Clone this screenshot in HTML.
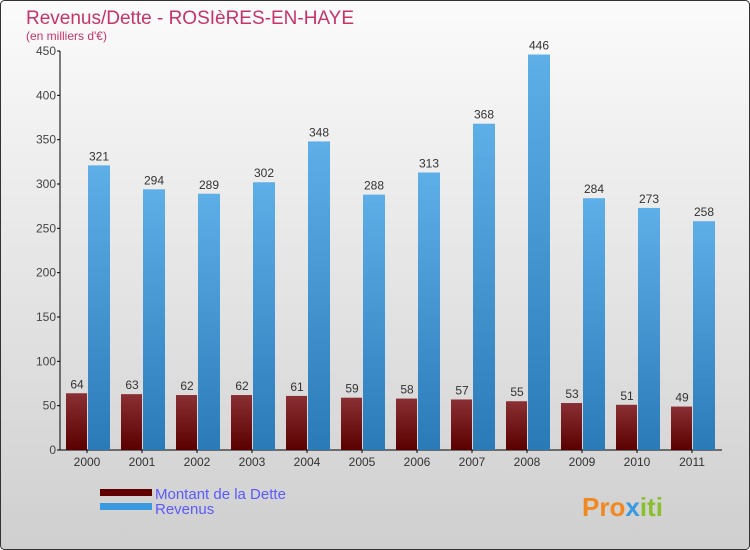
<!DOCTYPE html>
<html><head><meta charset="utf-8"><style>
body{margin:0}
svg{display:block;font-family:"Liberation Sans",sans-serif}
</style></head><body>
<svg id="c" width="750" height="550">
<defs>
<linearGradient id="bg" x1="0" y1="0" x2="0" y2="1"><stop offset="0" stop-color="#fbfbfb"/><stop offset="1" stop-color="#cfcfcf"/></linearGradient>
<linearGradient id="gd" x1="0" y1="0" x2="0" y2="1"><stop offset="0" stop-color="#8a3034"/><stop offset="1" stop-color="#5a0000"/></linearGradient>
<linearGradient id="gr" x1="0" y1="0" x2="0" y2="1"><stop offset="0" stop-color="#5eafe8"/><stop offset="1" stop-color="#2a7ab8"/></linearGradient>
</defs>
<rect x="0.5" y="0.5" width="749" height="549" rx="4" fill="url(#bg)" stroke="#333"/>
<text x="26" y="24" font-size="19" fill="#c8336a">Revenus/Dette - ROSIèRES-EN-HAYE</text>
<text x="26" y="40" font-size="12" fill="#c8336a">(en milliers d'€)</text>
<g id="plot"></g>
<rect x="100" y="489" width="52" height="7" fill="#600000"/>
<text x="155" y="499" font-size="15" fill="#5a5aff">Montant de la Dette</text>
<rect x="100" y="503" width="52" height="7" fill="#3a9ae0"/>
<text x="155" y="514" font-size="15" fill="#5a5aff">Revenus</text>
<text x="582" y="516" font-size="26" font-weight="bold" fill="#f08a20">Pro<tspan fill="#3a9ae0">x</tspan><tspan fill="#8ac030">iti</tspan></text>
</svg>
<script>
const years=["2000","2001","2002","2003","2004","2005","2006","2007","2008","2009","2010","2011"];
const dette=[64,63,62,62,61,59,58,57,55,53,51,49];
const revenus=[321,294,289,302,348,288,313,368,446,284,273,258];
const ticks=[0,50,100,150,200,250,300,350,400,450];
const NS="http://www.w3.org/2000/svg";
const g=document.getElementById('plot');
const x0=62,step=55,y0=450,k=399/450;
const y=v=>y0-v*k;
function mk(t,a,txt){const e=document.createElementNS(NS,t);for(const n in a)e.setAttribute(n,a[n]);if(txt!=null)e.textContent=txt;g.appendChild(e);return e;}
let ax=mk('line',{x1:60,y1:y(450),x2:60,y2:y0,stroke:'#000'});

let bx=mk('line',{x1:60,y1:y0,x2:722,y2:y0,stroke:'#000'});

ticks.forEach(t=>{
 let l=mk('line',{x1:57,y1:y(t),x2:60,y2:y(t),stroke:'#000'});
 
 let s=mk('text',{x:56,y:y(t)+4,'font-size':12,fill:'#444','text-anchor':'end'},t);
 
});
years.forEach((yr,i)=>{
 const gx=x0+i*step;
 let d=mk('rect',{x:gx+4,y:y(dette[i]),width:21,height:dette[i]*k,fill:'url(#gd)'});
 
 let r=mk('rect',{x:gx+26,y:y(revenus[i]),width:22,height:revenus[i]*k,fill:'url(#gr)'});
 
 let dl=mk('text',{x:gx+15,y:y(dette[i])-5,'font-size':12,fill:'#333','text-anchor':'middle'},dette[i]);
 
 let rl=mk('text',{x:gx+37,y:y(revenus[i])-5,'font-size':12,fill:'#333','text-anchor':'middle'},revenus[i]);
 
 let tk=mk('line',{x1:gx+25,y1:y0,x2:gx+25,y2:y0+3,stroke:'#000'});
 
 let xl=mk('text',{x:gx+25,y:466,'font-size':12,fill:'#333','text-anchor':'middle'},yr);
 
});
</script>
</body></html>
